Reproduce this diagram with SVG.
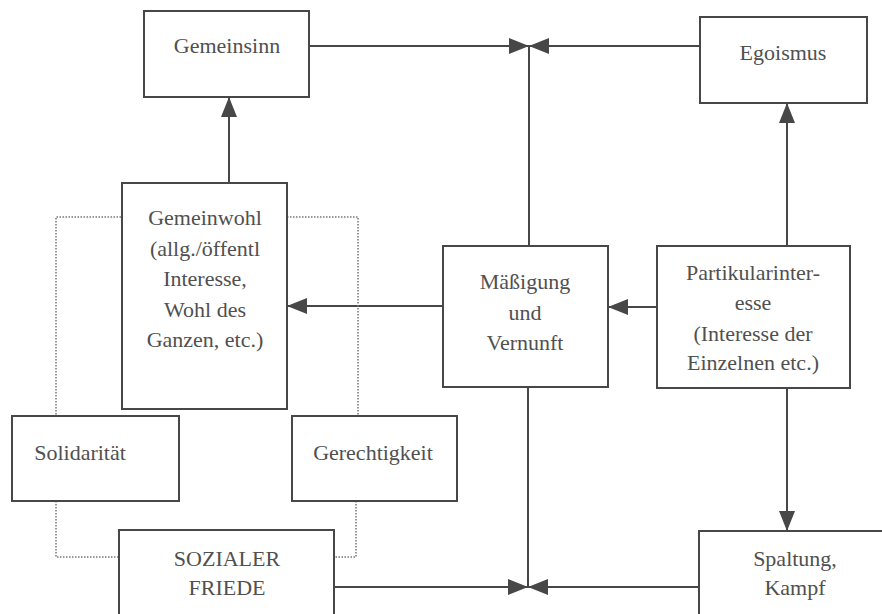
<svg xmlns="http://www.w3.org/2000/svg" width="882" height="614" viewBox="0 0 882 614">
<style>
.box{fill:#fff;stroke:#474747;stroke-width:2}
.t{font-family:"Liberation Serif","Times New Roman",serif;font-size:22px;fill:#505050;text-anchor:middle}
.c{stroke:#474747;stroke-width:2;fill:none}
.d{stroke:#777;stroke-width:1.5;fill:none;stroke-dasharray:1.5 1.5}
</style>
<defs>
<marker id="ah" viewBox="0 0 20 16" refX="20" refY="8" markerWidth="20" markerHeight="16" markerUnits="userSpaceOnUse" orient="auto">
<path d="M0,0 L20,8 L0,16 z" fill="#474747"/>
</marker>
</defs>
<rect width="882" height="614" fill="#fff"/>
<g id="connectors">
<line class="c" x1="309" y1="46" x2="529" y2="46" marker-end="url(#ah)"/>
<line class="c" x1="700" y1="46" x2="529" y2="46" marker-end="url(#ah)"/>
<line class="c" x1="529" y1="246" x2="529" y2="46"/>
<line class="c" x1="229" y1="183" x2="229" y2="97" marker-end="url(#ah)"/>
<line class="c" x1="787" y1="246" x2="787" y2="103" marker-end="url(#ah)"/>
<line class="c" x1="443" y1="306" x2="287" y2="306" marker-end="url(#ah)"/>
<line class="c" x1="657" y1="307" x2="608" y2="307" marker-end="url(#ah)"/>
<line class="c" x1="787" y1="388" x2="787" y2="531" marker-end="url(#ah)"/>
<line class="c" x1="528" y1="387" x2="528" y2="587"/>
<line class="c" x1="334" y1="587" x2="528" y2="587" marker-end="url(#ah)"/>
<line class="c" x1="699" y1="587" x2="528" y2="587" marker-end="url(#ah)"/>
<polyline class="d" points="121,217 56,217 56,415"/>
<polyline class="d" points="287,217 358,217 358,415"/>
<polyline class="d" points="56,501 56,557 119,557"/>
<polyline class="d" points="356,501 356,557 334,557"/>
</g>
<g id="gemeinsinn">
<rect class="box" x="144" y="11" width="165" height="86"/>
<text class="t" x="227" y="53">Gemeinsinn</text>
</g>
<g id="egoismus">
<rect class="box" x="700" y="17" width="167" height="86"/>
<text class="t" x="783" y="60">Egoismus</text>
</g>
<g id="gemeinwohl">
<rect class="box" x="122" y="183" width="165" height="226"/>
<text class="t" x="205" y="225">Gemeinwohl</text>
<text class="t" x="205" y="256">(allg./öffentl</text>
<text class="t" x="205" y="286">Interesse,</text>
<text class="t" x="205" y="317">Wohl des</text>
<text class="t" x="205" y="347">Ganzen, etc.)</text>
</g>
<g id="maessigung">
<rect class="box" x="443" y="246" width="165" height="141"/>
<text class="t" x="525" y="289">Mäßigung</text>
<text class="t" x="525" y="320">und</text>
<text class="t" x="525" y="350">Vernunft</text>
</g>
<g id="partikularinteresse">
<rect class="box" x="657" y="246" width="193" height="142"/>
<text class="t" x="753" y="280">Partikularinter-</text>
<text class="t" x="753" y="310">esse</text>
<text class="t" x="753" y="341">(Interesse der</text>
<text class="t" x="753" y="370">Einzelnen etc.)</text>
</g>
<g id="solidaritaet">
<rect class="box" x="12" y="416" width="167" height="85"/>
<text class="t" x="80" y="460">Solidarität</text>
</g>
<g id="gerechtigkeit">
<rect class="box" x="292" y="416" width="165" height="85"/>
<text class="t" x="373" y="460">Gerechtigkeit</text>
</g>
<g id="sozialer-friede">
<rect class="box" x="119" y="530" width="215" height="100"/>
<text class="t" x="227" y="566">SOZIALER</text>
<text class="t" x="227" y="595">FRIEDE</text>
</g>
<g id="spaltung">
<rect class="box" x="699" y="531" width="200" height="100"/>
<text class="t" x="795" y="566">Spaltung,</text>
<text class="t" x="795" y="595">Kampf</text>
</g>
</svg>
